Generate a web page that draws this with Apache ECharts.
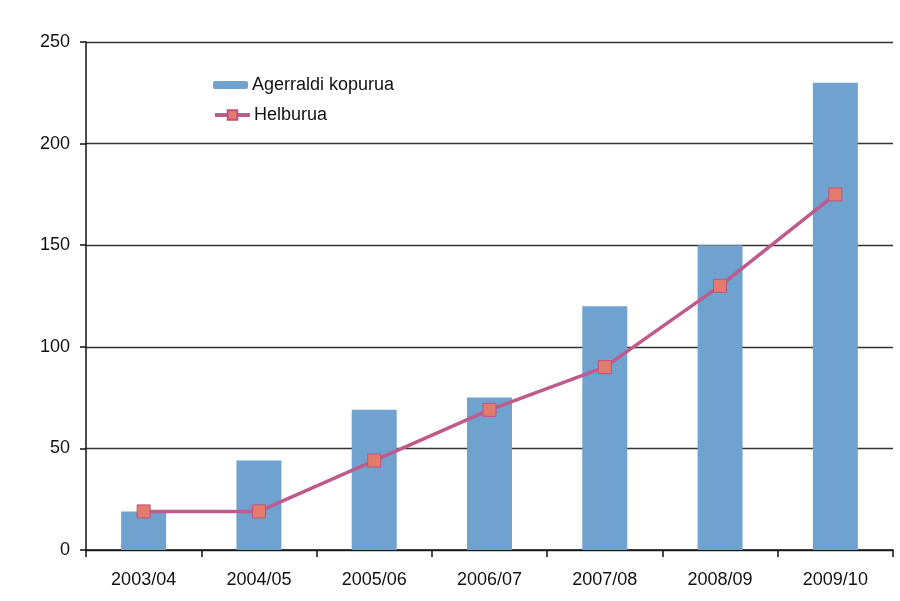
<!DOCTYPE html>
<html>
<head>
<meta charset="utf-8">
<script src="https://cdn.jsdelivr.net/npm/echarts@6/dist/echarts.min.js"></script>
<style>html,body{margin:0;padding:0;background:#fff}#c{width:900px;height:601px}</style>
</head>
<body>
<div id="c"></div>
<script>
const categories = ['2003/04','2004/05','2005/06','2006/07','2007/08','2008/09','2009/10'];
const barValues = [19, 44, 69, 75, 120, 150, 230];
const lineValues = [19, 19, 44, 69, 90, 130, 175];
const barName = 'Agerraldi kopurua';
const lineName = 'Helburua';

const chart = echarts.init(document.getElementById('c'), null, {renderer: 'canvas'});
const font = 'Liberation Sans, Arial, sans-serif';
chart.setOption({
  animation: false,
  backgroundColor: '#ffffff',
  grid: {left: 86, right: 7, top: 42, bottom: 51},
  legend: [
    {data: [barName], left: 208, top: 71, orient: 'vertical', itemWidth: 35, itemHeight: 8, itemGap: 4,
     textStyle: {fontFamily: font, fontSize: 18, color: '#111', padding: [0,0,0,-1]}},
    {data: [lineName], left: 208, top: 101, orient: 'vertical', itemWidth: 35, itemHeight: 12, itemGap: 4,
     lineStyle: {width: 4, color: '#BE5A8C'},
     textStyle: {fontFamily: font, fontSize: 18, color: '#111', padding: [0,0,0,-1]}}
  ],
  xAxis: {
    type: 'category', data: categories, boundaryGap: true,
    axisLine: {show: true, lineStyle: {color: '#111', width: 1.5}},
    axisTick: {show: true, length: 7, alignWithLabel: false, lineStyle: {color: '#111', width: 1.5}},
    axisLabel: {fontFamily: font, fontSize: 18, color: '#111', margin: 21},
    splitLine: {show: false}
  },
  yAxis: {
    type: 'value', min: 0, max: 250, interval: 50,
    axisLine: {show: true, lineStyle: {color: '#111', width: 1.5}},
    axisTick: {show: true, length: 6, lineStyle: {color: '#111', width: 1.5}},
    axisLabel: {fontFamily: font, fontSize: 18, color: '#111', margin: 16},
    splitLine: {show: true, lineStyle: {color: '#333', width: 1.3}}
  },
  series: [
    {name: barName, type: 'bar', data: barValues, barWidth: 45,
     itemStyle: {color: '#6FA2CF'}},
    {name: lineName, type: 'line', data: lineValues, symbol: 'rect', symbolSize: 13,
     lineStyle: {color: '#BE5A8C', width: 3.5},
     itemStyle: {color: '#E27B6E', borderColor: '#C0527A', borderWidth: 1},
     z: 3}
  ]
});
</script>
</body>
</html>
